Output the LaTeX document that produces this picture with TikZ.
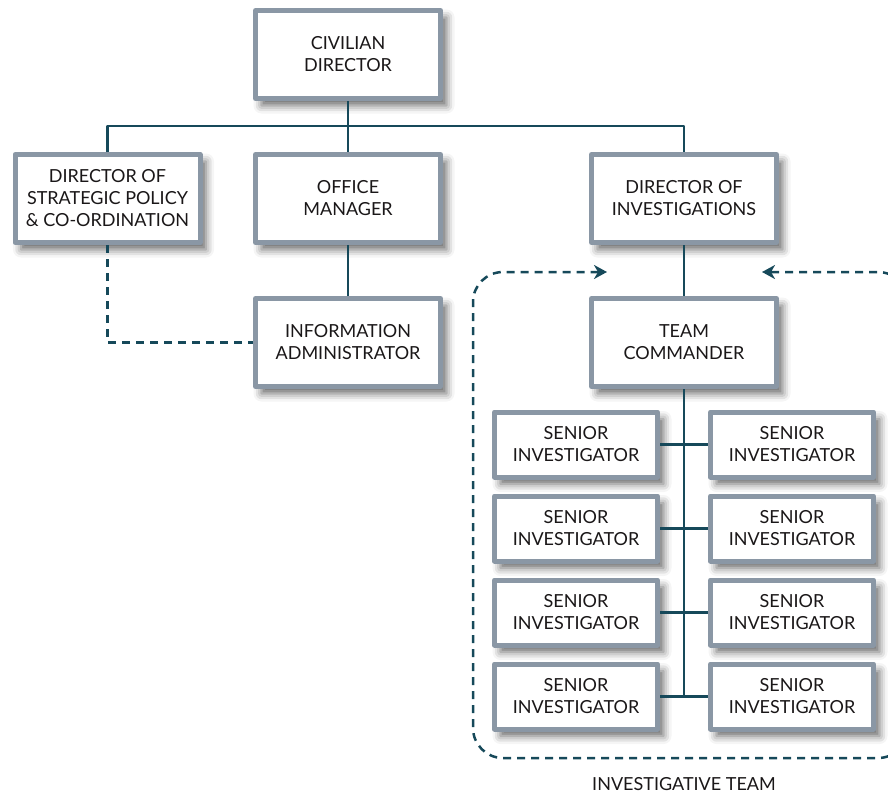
\documentclass[tikz,border=0pt]{standalone}
\usepackage{fontspec}
\setmainfont{Lato}
\usetikzlibrary{arrows.meta,calc,positioning,shadows.blur}
\definecolor{boxgrey}{HTML}{8A97A5}
\definecolor{linkteal}{HTML}{16495A}
\definecolor{inktext}{HTML}{1A1718}
\tikzset{
  unitbox/.style={draw=boxgrey,line width=5pt,fill=white,align=center,
    minimum width=185pt,minimum height=88pt,inner sep=2pt,text=inktext,
    font=\fontsize{18}{22}\selectfont,
    blur shadow={shadow xshift=6pt,shadow yshift=-7pt,shadow blur radius=8pt,shadow opacity=60}},
  invbox/.style={unitbox,minimum width=163pt,minimum height=65pt},
  link/.style={draw=linkteal,line width=2.5pt},
  dotlink/.style={link,dash pattern=on 8pt off 6pt}
}
\begin{document}
\begin{tikzpicture}[x=1pt,y=-1pt,line join=round,>={Stealth[length=13pt,width=14pt,inset=4pt]}]
\useasboundingbox (0,0) rectangle (888,795);
\node[unitbox] (civ) at (348,54.5) {CIVILIAN\\DIRECTOR};
\node[unitbox] (strat) at (107.5,198.5) {DIRECTOR OF\\STRATEGIC POLICY\\\& CO-ORDINATION};
\node[unitbox] (office) at (348,198.5) {OFFICE\\MANAGER};
\node[unitbox] (dinv) at (684,198.5) {DIRECTOR OF\\INVESTIGATIONS};
\node[unitbox] (info) at (348,342.5) {INFORMATION\\ADMINISTRATOR};
\node[unitbox] (tc) at (684,342.5) {TEAM\\COMMANDER};
\coordinate (bus) at (348,126);
\draw[link] (civ.south)--(bus) (strat.north) |- (bus) -| (dinv.north) (bus)--(office.north);
\draw[link] (office.south)--(info.north) (dinv.south)--(tc.south|-tc.north);
\draw[dotlink] (strat.south) |- (info.west);
\foreach \r/\y in {1/444.5,2/528.5,3/612.5,4/696.5}{
  \node[invbox] (sl\r) at (576,\y) {SENIOR\\INVESTIGATOR};
  \node[invbox] (sr\r) at (792,\y) {SENIOR\\INVESTIGATOR};
  \draw[link] (sl\r.east)--(sr\r.west);}
\draw[link] (tc.south)--(tc.south|-sl4.east);
% investigative team outline
\begin{scope}
\clip (0,0) rectangle (888,795);
\coordinate (tl) at (473,272);
\coordinate (br) at (908,758);
\draw[dotlink,rounded corners=30pt,<->]
  (607,272) -- (tl) -- (tl|-br) -- (br) -- (br|-tl) -- (762,272);
\end{scope}
\node[text=inktext,font=\fontsize{18}{22}\selectfont] (team) at (684,784) {INVESTIGATIVE TEAM};
\end{tikzpicture}
\end{document}
